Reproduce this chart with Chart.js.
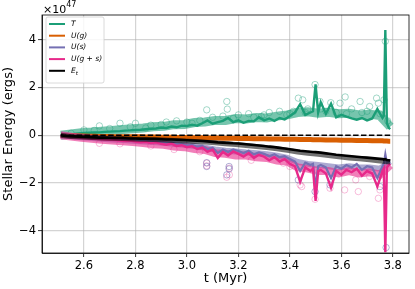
<!DOCTYPE html>
<html>
<head>
<meta charset="utf-8">
<script src="https://cdn.jsdelivr.net/npm/chart.js@4.4.1/dist/chart.umd.min.js"></script>
<style>
  html, body { margin: 0; padding: 0; background: #fff; }
</style>
</head>
<body>
<canvas id="chart" width="415" height="289"></canvas>
<script>
// time samples (Myr)
const times = [
  2.51, 2.52, 2.54, 2.56, 2.58, 2.60, 2.62, 2.64, 2.66, 2.68,
  2.70, 2.72, 2.74, 2.76, 2.78, 2.80, 2.82, 2.84, 2.86, 2.88,
  2.90, 2.92, 2.94, 2.96, 2.98, 3.00, 3.02, 3.04, 3.06, 3.08,
  3.10, 3.12, 3.14, 3.16, 3.18, 3.20, 3.22, 3.24, 3.26, 3.28,
  3.30, 3.32, 3.34, 3.36, 3.38, 3.40, 3.42, 3.44, 3.46, 3.48,
  3.49, 3.50, 3.51, 3.52, 3.54, 3.56, 3.58, 3.60, 3.62, 3.64,
  3.66, 3.68, 3.70, 3.72, 3.74, 3.76, 3.765, 3.771, 3.777, 3.785,
  3.79
];

// energies in units of 1e47 erg
const kinetic = [
  0.00, 0.02, 0.04, 0.05, 0.07, 0.09, 0.10, 0.11, 0.12, 0.14,
  0.15, 0.16, 0.17, 0.19, 0.20, 0.22, 0.23, 0.25, 0.27, 0.28,
  0.32, 0.30, 0.36, 0.33, 0.40, 0.38, 0.44, 0.40, 0.50, 0.62,
  0.48, 0.55, 0.60, 0.72, 0.55, 0.62, 0.52, 0.60, 0.58, 0.75,
  0.62, 0.70, 0.60, 0.72, 0.66, 0.80, 0.95, 1.30, 0.85, 0.95,
  1.00, 2.13, 0.95, 1.38, 0.90, 1.32, 0.75, 0.85, 0.78, 0.70,
  0.65, 0.72, 0.62, 0.70, 1.10, 0.72, 0.80, 4.40, 0.50, 0.30,
  0.25
];
const gasPot = [
  0.00, -0.01, -0.02, -0.02, -0.03, -0.03, -0.04, -0.04, -0.05, -0.05,
  -0.05, -0.06, -0.06, -0.06, -0.07, -0.07, -0.07, -0.08, -0.08, -0.08,
  -0.09, -0.09, -0.09, -0.10, -0.10, -0.10, -0.11, -0.11, -0.11, -0.12,
  -0.12, -0.12, -0.13, -0.13, -0.13, -0.14, -0.14, -0.14, -0.15, -0.15,
  -0.15, -0.16, -0.16, -0.16, -0.17, -0.17, -0.17, -0.18, -0.18, -0.18,
  -0.19, -0.19, -0.19, -0.19, -0.20, -0.20, -0.20, -0.21, -0.21, -0.21,
  -0.22, -0.22, -0.22, -0.23, -0.23, -0.23, -0.24, -0.24, -0.24, -0.25,
  -0.25
];
const starPot = [
  0.00, -0.02, -0.05, -0.07, -0.08, -0.10, -0.11, -0.12, -0.14, -0.15,
  -0.16, -0.17, -0.18, -0.20, -0.20, -0.23, -0.25, -0.24, -0.28, -0.27,
  -0.30, -0.33, -0.31, -0.37, -0.36, -0.42, -0.40, -0.48, -0.45, -0.58,
  -0.52, -0.75, -0.60, -0.70, -0.60, -0.66, -0.75, -0.65, -0.80, -0.72,
  -0.78, -0.88, -0.80, -0.92, -0.88, -1.00, -1.10, -1.50, -1.15, -1.25,
  -1.20, -2.20, -1.30, -1.25, -1.35, -1.80, -1.30, -1.40, -1.25, -1.35,
  -1.20, -1.45, -1.30, -1.35, -1.80, -1.30, -1.20, -0.80, -1.15, -1.10,
  -1.10
];
const totalPot = [
  0.00, -0.03, -0.06, -0.08, -0.10, -0.12, -0.13, -0.15, -0.16, -0.18,
  -0.19, -0.20, -0.22, -0.24, -0.23, -0.27, -0.30, -0.28, -0.33, -0.30,
  -0.36, -0.40, -0.35, -0.45, -0.42, -0.50, -0.46, -0.58, -0.52, -0.70,
  -0.60, -0.95, -0.70, -0.85, -0.68, -0.78, -0.90, -0.75, -0.95, -0.82,
  -0.90, -1.05, -0.92, -1.10, -1.00, -1.20, -1.30, -1.95, -1.35, -1.50,
  -1.40, -2.75, -1.50, -1.45, -1.60, -2.20, -1.50, -1.65, -1.45, -1.55,
  -1.40, -1.70, -1.50, -1.60, -2.15, -1.50, -1.40, -4.90, -1.35, -1.25,
  -1.20
];
const totalE = [
  0.00, -0.02, -0.04, -0.05, -0.06, -0.07, -0.08, -0.09, -0.10, -0.10,
  -0.11, -0.12, -0.12, -0.13, -0.14, -0.14, -0.15, -0.15, -0.16, -0.16,
  -0.17, -0.18, -0.18, -0.19, -0.20, -0.21, -0.22, -0.23, -0.24, -0.26,
  -0.28, -0.30, -0.31, -0.32, -0.34, -0.35, -0.37, -0.39, -0.41, -0.43,
  -0.45, -0.48, -0.50, -0.53, -0.56, -0.59, -0.62, -0.65, -0.67, -0.69,
  -0.70, -0.71, -0.72, -0.73, -0.76, -0.79, -0.82, -0.84, -0.86, -0.88,
  -0.90, -0.92, -0.94, -0.96, -0.98, -1.00, -1.02, -1.00, -1.04, -1.05,
  -1.06
];

// the other runs, coarser sampling
const bandTimes = [2.51, 2.55, 2.59, 2.63, 2.67, 2.71, 2.75, 2.79, 2.83, 2.87, 2.91,
  2.95, 2.99, 3.03, 3.07, 3.11, 3.15, 3.19, 3.23, 3.27, 3.31, 3.35,
  3.39, 3.43, 3.47, 3.51, 3.55, 3.59, 3.63, 3.67, 3.71, 3.75, 3.79];
const kineticBand = [0.00, 0.05, 0.10, 0.13, 0.17, 0.20, 0.24, 0.27, 0.30, 0.35, 0.37,
  0.44, 0.45, 0.53, 0.55, 0.62, 0.62, 0.70, 0.68, 0.74, 0.72, 0.80,
  0.85, 0.95, 0.98, 0.92, 0.96, 0.90, 0.92, 0.85, 0.88, 0.82, 0.35];
const starPotBand = [0.00, -0.05, -0.09, -0.12, -0.15, -0.18, -0.20, -0.23, -0.26, -0.29, -0.32,
  -0.36, -0.40, -0.45, -0.52, -0.60, -0.65, -0.68, -0.72, -0.75, -0.80, -0.86,
  -0.95, -1.12, -1.20, -1.25, -1.30, -1.35, -1.30, -1.35, -1.35, -1.40, -1.10];
const totalPotBand = [0.00, -0.06, -0.11, -0.15, -0.19, -0.22, -0.25, -0.29, -0.33, -0.38, -0.40,
  -0.47, -0.50, -0.58, -0.62, -0.75, -0.78, -0.85, -0.85, -0.92, -0.95, -1.06,
  -1.10, -1.35, -1.40, -1.50, -1.50, -1.60, -1.50, -1.60, -1.55, -1.65, -1.25];
const totalEBand = [0.00, -0.06, -0.08, -0.10, -0.12, -0.13, -0.14, -0.16, -0.17, -0.18, -0.20,
  -0.22, -0.24, -0.26, -0.29, -0.32, -0.36, -0.39, -0.43, -0.47, -0.52, -0.57,
  -0.63, -0.70, -0.76, -0.80, -0.85, -0.90, -0.95, -0.99, -1.03, -1.08, -1.12];

// snapshot markers (hollow circles)
const ringTimesT = [2.55, 2.60, 2.64, 2.66, 2.70, 2.74, 2.78, 2.80, 2.84, 2.86, 2.90, 2.92, 2.96, 3.00,
  3.02, 3.05, 3.077, 3.10, 3.14, 3.155, 3.157, 3.18, 3.20, 3.24, 3.26, 3.289, 3.30, 3.32,
  3.36, 3.388, 3.40, 3.414, 3.433, 3.45, 3.46, 3.47, 3.498, 3.517, 3.52, 3.54, 3.559, 3.58,
  3.595, 3.615, 3.62, 3.64, 3.673, 3.68, 3.70, 3.71, 3.737, 3.744, 3.75, 3.766, 3.771, 3.78];
const ringValsT = [0.08, 0.22, 0.20, 0.39, 0.28, 0.50, 0.35, 0.50, 0.30, 0.42, 0.45, 0.55, 0.60, 0.55,
  0.50, 0.62, 1.06, 0.75, 0.80, 1.41, 1.09, 0.70, 0.85, 0.90, 0.75, 0.78, 0.85, 0.95,
  1.00, 0.85, 0.90, 1.00, 1.55, 1.48, 0.95, 1.10, 2.12, 1.41, 1.10, 1.00, 1.36, 0.95,
  1.34, 1.60, 0.90, 1.10, 1.41, 0.95, 1.00, 1.20, 1.55, 1.34, 0.90, 1.48, 3.93, 0.60];
const ringTimesGS = [2.66, 2.74, 2.86, 2.95, 3.05, 3.077, 3.077, 3.165, 3.165, 3.155, 3.25, 3.375,
  3.40, 3.44, 3.446, 3.498, 3.504, 3.556, 3.613, 3.656, 3.666, 3.71, 3.744, 3.75];
const ringValsGS = [-0.34, -0.36, -0.45, -0.60, -0.69, -1.17, -1.28, -1.38, -1.66, -1.76, -1.05, -1.17,
  -1.31, -2.08, -2.15, -2.68, -1.45, -2.22, -2.29, -1.87, -2.36, -1.73, -2.64, -2.29];
const ringTimesS = [3.077, 3.077, 3.164, 3.164, 3.155, 3.433, 3.498, 3.556, 3.75, 3.774];
const ringValsS = [-1.15, -1.31, -1.31, -1.41, -1.66, -1.87, -2.36, -2.08, -2.15, -4.70];

const xTicks = [2.6, 2.8, 3.0, 3.2, 3.4, 3.6, 3.8];
const yTicks = [-4, -2, 0, 2, 4];

const seriesNames = ['T', 'U(g)', 'U(s)', 'U(g + s)', 'E_t'];
const seriesColors = ['#1b9e77', '#d95f02', '#7570b3', '#e7298a', '#000000'];

function pts(xs, ys) {
  return xs.map((x, i) => ({ x: x, y: ys[i] }));
}

function lineSet(data, color, width) {
  return {
    type: 'line',
    data: data,
    borderColor: color,
    borderWidth: width,
    pointRadius: 0,
    tension: 0,
    fill: false
  };
}

function ringSet(data, color) {
  return {
    type: 'scatter',
    data: data,
    showLine: false,
    pointRadius: 3.2,
    pointBorderWidth: 1,
    pointBackgroundColor: 'rgba(0,0,0,0)',
    pointBorderColor: color
  };
}

// first dataset ends up on top
const datasets = [
  Object.assign(lineSet([{ x: times[0], y: 0 }, { x: times[times.length - 1], y: 0 }], '#000', 1.6), { borderDash: [5.5, 2.4] }),
  lineSet(pts(times, totalE), '#000000', 2.6),
  lineSet(pts(bandTimes, totalEBand), 'rgba(0,0,0,0.55)', 5),
  lineSet(pts(times, totalPot), '#e7298a', 2.4),
  lineSet(pts(times, starPot), '#7570b3', 2.2),
  lineSet(pts(bandTimes, totalPotBand), 'rgba(231,41,138,0.6)', 8),
  lineSet(pts(bandTimes, starPotBand), 'rgba(117,112,179,0.6)', 6),
  lineSet(pts(times, gasPot), '#d95f02', 5),
  lineSet(pts(times, kinetic), '#1b9e77', 2.4),
  lineSet(pts(bandTimes, kineticBand), 'rgba(27,158,119,0.6)', 9),
  ringSet(pts(ringTimesS, ringValsS), 'rgba(117,112,179,0.55)'),
  ringSet(pts(ringTimesGS, ringValsGS), 'rgba(231,41,138,0.3)'),
  ringSet(pts(ringTimesT, ringValsT), 'rgba(27,158,119,0.4)')
];

const frame = {
  id: 'frame',
  afterDatasetsDraw(chart) {
    const { ctx, chartArea: a } = chart;
    ctx.save();
    ctx.strokeStyle = '#000';
    ctx.lineWidth = 0.8;
    ctx.strokeRect(a.left, a.top, a.right - a.left, a.bottom - a.top);
    ctx.restore();
  }
};

const extras = {
  id: 'extras',
  afterDraw(chart) {
    const { ctx, chartArea: a } = chart;
    ctx.save();
    // offset text above the y axis
    ctx.fillStyle = '#000';
    ctx.textBaseline = 'alphabetic';
    ctx.font = '11px "DejaVu Sans"';
    ctx.fillText('\u00d710', a.left + 1, 13.3);
    const w = ctx.measureText('\u00d710').width;
    ctx.font = '8px "DejaVu Sans"';
    ctx.fillText('47', a.left + 1 + w, 7);

    // legend
    const bx = a.left + 4, by = a.top + 2, bw = 58, bh = 66;
    ctx.fillStyle = 'rgba(255,255,255,0.85)';
    ctx.strokeStyle = '#d0d0d0';
    ctx.lineWidth = 0.8;
    ctx.beginPath();
    ctx.roundRect(bx, by, bw, bh, 2);
    ctx.fill();
    ctx.stroke();
    seriesNames.forEach((name, i) => {
      const y = by + 7 + i * 11.7;
      ctx.strokeStyle = seriesColors[i];
      ctx.lineWidth = 2;
      ctx.beginPath();
      ctx.moveTo(bx + 3, y);
      ctx.lineTo(bx + 19, y);
      ctx.stroke();
      ctx.fillStyle = '#000';
      ctx.textBaseline = 'middle';
      const parts = name.split('_');
      ctx.font = 'italic 7.5px "DejaVu Sans"';
      ctx.fillText(parts[0], bx + 25, y);
      if (parts[1]) {
        const sw = ctx.measureText(parts[0]).width;
        ctx.font = 'italic 5.5px "DejaVu Sans"';
        ctx.fillText(parts[1], bx + 25 + sw, y + 2.5);
      }
    });
    ctx.restore();
  }
};

Chart.defaults.font.family = '"DejaVu Sans"';
Chart.defaults.color = '#000';

new Chart(document.getElementById('chart'), {
  type: 'line',
  data: { datasets: datasets },
  options: {
    responsive: false,
    animation: false,
    events: [],
    layout: { padding: { left: 0, right: 6, top: 15, bottom: 0 } },
    plugins: { legend: { display: false }, tooltip: { enabled: false } },
    scales: {
      x: {
        type: 'linear',
        min: 2.437,
        max: 3.863,
        afterBuildTicks: s => { s.ticks = xTicks.map(v => ({ value: v })); },
        afterFit: s => { s.height = 36; },
        ticks: {
          font: { size: 11.5 },
          padding: 2,
          maxRotation: 0,
          autoSkip: false,
          callback: v => v.toFixed(1)
        },
        grid: { color: 'rgba(176,176,176,0.55)', lineWidth: 1.2, tickLength: 4, tickColor: '#000', tickWidth: 0.8 },
        border: { display: true, color: '#000', width: 0.8 },
        title: { display: true, text: 't (Myr)', font: { size: 13 }, padding: { top: 0, bottom: 3 } }
      },
      y: {
        min: -4.93,
        max: 5.03,
        afterBuildTicks: s => { s.ticks = yTicks.map(v => ({ value: v })); },
        afterFit: s => { s.width = 42; },
        ticks: {
          font: { size: 11.5 },
          padding: 2,
          autoSkip: false,
          callback: v => (v < 0 ? '\u2212' + Math.abs(v) : String(v))
        },
        grid: { color: 'rgba(176,176,176,0.55)', lineWidth: 1.2, tickLength: 4, tickColor: '#000', tickWidth: 0.8 },
        border: { display: true, color: '#000', width: 0.8 },
        title: { display: true, text: 'Stellar Energy (ergs)', font: { size: 13 }, padding: { top: 1, bottom: 0 } }
      }
    }
  },
  plugins: [frame, extras]
});
</script>
</body>
</html>
